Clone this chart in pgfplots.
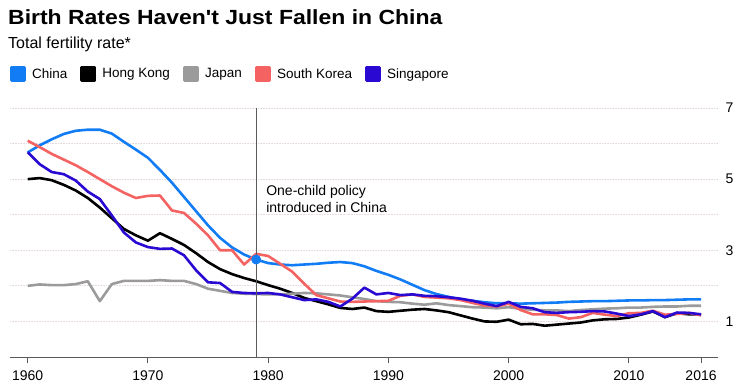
\documentclass[border=0pt]{standalone}
\usepackage{fontspec}
\setmainfont{Liberation Sans}
\newfontfamily\titlefont{Liberation Sans}[FakeStretch=1.12]
\usepackage{pgfplots}
\pgfplotsset{compat=1.18}
\definecolor{cnblue}{RGB}{18,124,245}
\definecolor{jpgray}{RGB}{155,155,155}
\definecolor{krred}{RGB}{245,98,98}
\definecolor{sgpurple}{RGB}{42,10,210}
\definecolor{gridc}{RGB}{228,216,222}
\definecolor{axc}{RGB}{90,90,90}
\begin{document}
\begin{tikzpicture}[x=1pt,y=1pt]
\begin{axis}[
  at={(10pt,-357pt)}, anchor=south west,
  scale only axis, width=708pt, height=249pt,
  xmin=1958.53, xmax=2017.41, ymin=0, ymax=7,
  axis x line*=bottom, axis y line*=right,
  y axis line style={draw=none},
  x axis line style={draw=axc, line width=1pt},
  xtick={1960,1970,1980,1990,2000,2010,2016},
  xticklabels={1960,1970,1980,1990,2000,2010,2016},
  ytick={1,2,3,4,5,6,7}, yticklabels={1,,3,,5,,7},
  ymajorgrids, grid style={draw=gridc, line width=0.9pt, dash pattern=on 1pt off 0.6pt},
  tick align=outside, major tick length=6pt,
  xtick style={draw=axc, line width=1pt},
  ytick style={draw=none},
  ticklabel style={font=\fontsize{14}{14}\selectfont},
  yticklabel style={xshift=-2pt},
  xticklabel style={yshift=-4pt},
  every axis plot/.append style={line width=2.6pt, line join=round},
  legend columns=-1,
  legend image code/.code={\fill[#1] (0pt,-6.7pt) rectangle (13.3pt,6.7pt); \path (17.5pt,0pt);},
  legend style={draw=none, fill=none, inner sep=0pt, outer sep=0pt,
    at={(0,1.1365)}, anchor=west, font=\fontsize{13.5}{14}\selectfont,
    /tikz/every even column/.append style={column sep=11pt}},
  legend cell align=left,
]
\addplot[color=cnblue] coordinates {
(1960,5.75)(1961,5.95)(1962,6.12)(1963,6.27)(1964,6.36)(1965,6.39)(1966,6.39)(1967,6.28)(1968,6.05)(1969,5.83)
(1970,5.6)(1971,5.26)(1972,4.9)(1973,4.5)(1974,4.1)(1975,3.7)(1976,3.35)(1977,3.08)(1978,2.88)(1979,2.74)
(1980,2.64)(1981,2.6)(1982,2.58)(1983,2.6)(1984,2.62)(1985,2.65)(1986,2.67)(1987,2.64)(1988,2.55)(1989,2.42)
(1990,2.31)(1991,2.18)(1992,2.03)(1993,1.88)(1994,1.77)(1995,1.69)(1996,1.62)(1997,1.58)(1998,1.54)(1999,1.51)
(2000,1.51)(2001,1.5)(2002,1.51)(2003,1.52)(2004,1.53)(2005,1.55)(2006,1.56)(2007,1.57)(2008,1.57)(2009,1.58)
(2010,1.59)(2011,1.59)(2012,1.6)(2013,1.6)(2014,1.61)(2015,1.62)(2016,1.62)};
\addlegendentry{China}
\addplot[color=black] coordinates {
(1960,5.0)(1961,5.03)(1962,4.97)(1963,4.84)(1964,4.68)(1965,4.47)(1966,4.2)(1967,3.9)(1968,3.6)(1969,3.42)
(1970,3.27)(1971,3.48)(1972,3.32)(1973,3.15)(1974,2.92)(1975,2.67)(1976,2.47)(1977,2.33)(1978,2.22)(1979,2.13)
(1980,2.02)(1981,1.92)(1982,1.8)(1983,1.66)(1984,1.57)(1985,1.48)(1986,1.38)(1987,1.35)(1988,1.39)(1989,1.29)
(1990,1.27)(1991,1.3)(1992,1.33)(1993,1.35)(1994,1.31)(1995,1.26)(1996,1.17)(1997,1.08)(1998,1.0)(1999,0.99)
(2000,1.05)(2001,0.92)(2002,0.93)(2003,0.88)(2004,0.91)(2005,0.94)(2006,0.97)(2007,1.03)(2008,1.06)(2009,1.07)
(2010,1.11)(2011,1.19)(2012,1.28)(2013,1.12)(2014,1.23)(2015,1.2)(2016,1.2)};
\addlegendentry{Hong Kong}
\addplot[color=jpgray] coordinates {
(1960,2.0)(1961,2.04)(1962,2.02)(1963,2.02)(1964,2.05)(1965,2.13)(1966,1.57)(1967,2.05)(1968,2.14)(1969,2.14)
(1970,2.14)(1971,2.16)(1972,2.14)(1973,2.14)(1974,2.05)(1975,1.92)(1976,1.86)(1977,1.8)(1978,1.78)(1979,1.77)
(1980,1.76)(1981,1.76)(1982,1.78)(1983,1.8)(1984,1.79)(1985,1.76)(1986,1.73)(1987,1.68)(1988,1.63)(1989,1.57)
(1990,1.55)(1991,1.54)(1992,1.5)(1993,1.47)(1994,1.51)(1995,1.46)(1996,1.43)(1997,1.4)(1998,1.39)(1999,1.37)
(2000,1.4)(2001,1.35)(2002,1.33)(2003,1.31)(2004,1.31)(2005,1.29)(2006,1.32)(2007,1.34)(2008,1.36)(2009,1.37)
(2010,1.39)(2011,1.39)(2012,1.41)(2013,1.42)(2014,1.42)(2015,1.44)(2016,1.44)};
\addlegendentry{Japan}
\addplot[color=krred] coordinates {
(1960,6.08)(1961,5.9)(1962,5.71)(1963,5.55)(1964,5.39)(1965,5.2)(1966,5.0)(1967,4.8)(1968,4.62)(1969,4.47)
(1970,4.53)(1971,4.54)(1972,4.12)(1973,4.05)(1974,3.75)(1975,3.42)(1976,3.0)(1977,3.0)(1978,2.6)(1979,2.9)
(1980,2.84)(1981,2.62)(1982,2.4)(1983,2.06)(1984,1.74)(1985,1.65)(1986,1.56)(1987,1.55)(1988,1.56)(1989,1.57)
(1990,1.58)(1991,1.72)(1992,1.76)(1993,1.69)(1994,1.67)(1995,1.65)(1996,1.6)(1997,1.52)(1998,1.45)(1999,1.42)
(2000,1.5)(2001,1.32)(2002,1.2)(2003,1.2)(2004,1.18)(2005,1.08)(2006,1.12)(2007,1.24)(2008,1.19)(2009,1.15)
(2010,1.23)(2011,1.24)(2012,1.3)(2013,1.19)(2014,1.21)(2015,1.24)(2016,1.17)};
\addlegendentry{South Korea}
\addplot[color=sgpurple] coordinates {
(1960,5.76)(1961,5.42)(1962,5.2)(1963,5.14)(1964,4.96)(1965,4.65)(1966,4.44)(1967,3.98)(1968,3.5)(1969,3.22)
(1970,3.09)(1971,3.04)(1972,3.05)(1973,2.86)(1974,2.44)(1975,2.1)(1976,2.08)(1977,1.83)(1978,1.8)(1979,1.79)
(1980,1.8)(1981,1.76)(1982,1.68)(1983,1.6)(1984,1.62)(1985,1.55)(1986,1.42)(1987,1.64)(1988,1.95)(1989,1.76)
(1990,1.8)(1991,1.74)(1992,1.76)(1993,1.72)(1994,1.71)(1995,1.68)(1996,1.64)(1997,1.58)(1998,1.5)(1999,1.43)
(2000,1.55)(2001,1.41)(2002,1.37)(2003,1.26)(2004,1.24)(2005,1.26)(2006,1.27)(2007,1.29)(2008,1.28)(2009,1.22)
(2010,1.15)(2011,1.2)(2012,1.29)(2013,1.12)(2014,1.25)(2015,1.24)(2016,1.2)};
\addlegendentry{Singapore}
\addplot[only marks, mark=*, mark size=3.6pt, color=cnblue, forget plot] coordinates {(1979,2.74)};
\draw[axc, line width=1pt] (axis cs:1979,0) -- (axis cs:1979,7);
\node[anchor=west, align=left, inner sep=0pt, font=\fontsize{14}{16.7}\selectfont] at (axis cs:1979.83,4.44) {One-child policy\\introduced in China};
\end{axis}
\node[anchor=base west, inner sep=0pt] at (8,-24) {\titlefont\bfseries\fontsize{20.5}{24}\selectfont Birth Rates Haven't Just Fallen in China};
\node[anchor=base west, inner sep=0pt] at (8,-48.3) {\fontsize{16}{18}\selectfont Total fertility rate*};
\pgfresetboundingbox
\path (0,0) rectangle (744,-391);
\end{tikzpicture}
\end{document}
